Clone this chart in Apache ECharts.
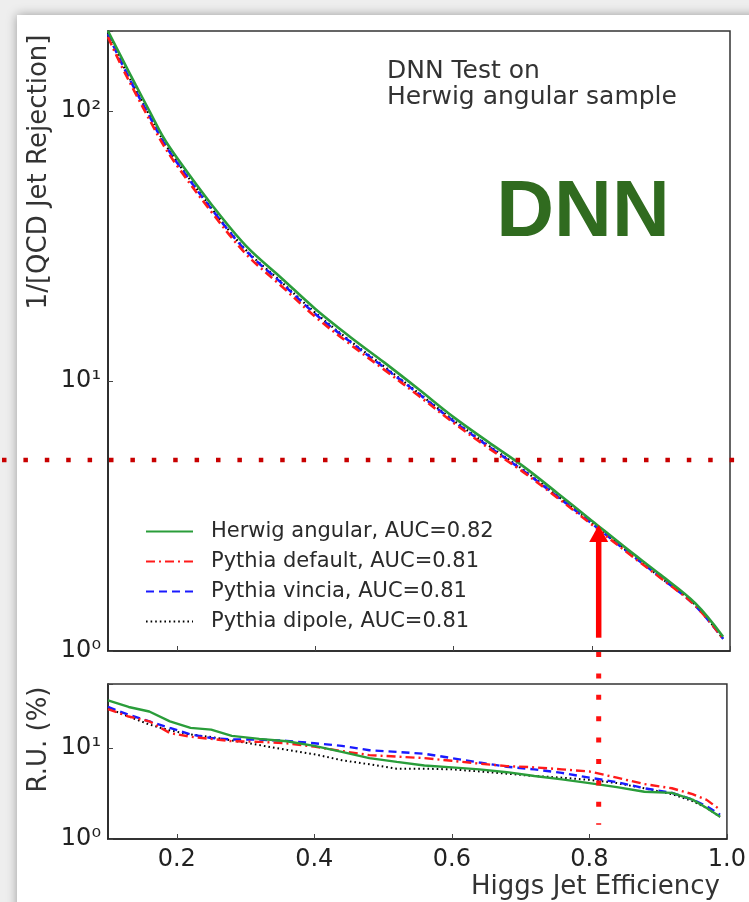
<!DOCTYPE html>
<html>
<head>
<meta charset="utf-8">
<script src="https://cdn.jsdelivr.net/npm/echarts@6/dist/echarts.min.js"></script>
<style>
  html, body { margin: 0; padding: 0; background: #eeeeee; }
  #chart { width: 749px; height: 902px; }
</style>
</head>
<body>
<div id="chart"></div>
<script>
// ---------- data ----------
const seriesNames = ['Herwig angular, AUC=0.82', 'Pythia default, AUC=0.81', 'Pythia vincia, AUC=0.81', 'Pythia dipole, AUC=0.81'];

// top panel: 1/[QCD Jet Rejection] vs Higgs jet efficiency
const effX = [0.10, 0.12, 0.14, 0.16, 0.18, 0.20, 0.25, 0.30, 0.35, 0.40, 0.45, 0.50, 0.55, 0.60, 0.65, 0.70, 0.75, 0.80, 0.85, 0.90, 0.95, 0.99];
const rejHerwigAng = [198, 157, 125, 100, 80, 67, 45, 31.6, 24.2, 18.5, 14.6, 11.7, 9.3, 7.35, 5.95, 4.85, 3.85, 3.04, 2.40, 1.91, 1.50, 1.13];
const rejPythiaDef = [188, 146, 116, 93, 75, 62.7, 42.2, 29.5, 22.6, 17.3, 13.7, 11.0, 8.8, 7.0, 5.66, 4.62, 3.70, 2.94, 2.33, 1.86, 1.47, 1.11];
const rejPythiaVin = [193, 150, 119, 95.7, 76.9, 64.3, 43.3, 30.3, 23.2, 17.7, 14.0, 11.2, 8.95, 7.1, 5.74, 4.67, 3.74, 2.97, 2.35, 1.87, 1.47, 1.11];
const rejPythiaDip = [194, 151, 120, 96.6, 77.6, 64.9, 43.6, 30.5, 23.4, 17.9, 14.1, 11.3, 9.0, 7.15, 5.78, 4.71, 3.76, 2.98, 2.36, 1.87, 1.48, 1.11];

// bottom panel: R.U. (%) vs Higgs jet efficiency
const ruX = [0.10, 0.13, 0.16, 0.19, 0.22, 0.25, 0.28, 0.32, 0.36, 0.40, 0.44, 0.48, 0.52, 0.56, 0.60, 0.64, 0.68, 0.72, 0.76, 0.80, 0.84, 0.88, 0.92, 0.95, 0.97, 0.99];
const ruHerwigAng = [33, 28, 25, 19.5, 16.5, 15.8, 13.5, 12.5, 11.8, 10.5, 9.0, 7.7, 7.0, 6.4, 6.1, 5.8, 5.4, 4.9, 4.5, 4.1, 3.7, 3.3, 3.2, 2.7, 2.2, 1.75];
const ruPythiaDef = [26.5, 22, 19.5, 14.5, 13.2, 12.5, 11.8, 11.6, 11.2, 10.3, 9.2, 8.3, 8.0, 7.7, 7.2, 6.7, 6.3, 6.1, 5.8, 5.5, 4.7, 4.0, 3.6, 3.1, 2.7, 2.1];
const ruPythiaVin = [28, 23, 19.5, 16.5, 14, 12.8, 12.3, 12.3, 11.9, 11.2, 10.5, 9.4, 9.0, 8.6, 7.7, 6.9, 6.2, 5.8, 5.3, 4.7, 4.2, 3.6, 3.2, 2.7, 2.3, 1.84];
const ruPythiaDip = [27, 22, 18, 15.5, 14, 13.1, 12.0, 10.7, 9.5, 8.5, 7.3, 6.6, 5.9, 5.9, 5.8, 5.5, 5.2, 4.9, 4.7, 4.45, 4.1, 3.6, 3.1, 2.6, 2.2, 1.75];

// axes / annotations
const xTicks = [0.2, 0.4, 0.6, 0.8, 1.0];
const xRange = [0.1, 1.0];
const rejRange = [1, 198];
const ruRange = [1, 50];
const refRejection = 5.1;      // horizontal dotted line
const workingEff = 0.81;       // vertical arrow / dotted line
const workingRej = 2.93;       // arrow tip
const arrowBaseRej = 1.12;     // arrow start
const dottedEndRU = 1.43;      // end of vertical dotted line in lower panel

// ---------- styling ----------
const FONT = 'DejaVu Sans';
const colors = ['#2a9d3a', '#ff1a1a', '#1a1aff', '#000000'];
const dashes = ['solid', [9, 4, 2, 4], [8, 5], [1.6, 3]];

const sup = { '0': '\u2070', '1': '\u00b9', '2': '\u00b2', '3': '\u00b3' };
function logLabel(v) {
  const e = Math.log10(v);
  if (Math.abs(e - Math.round(e)) > 1e-6) return '';
  return '10' + String(Math.round(e)).split('').map(c => sup[c]).join('');
}
const pair = (xs, ys) => xs.map((x, i) => [x, ys[i]]);

const topData = [rejHerwigAng, rejPythiaDef, rejPythiaVin, rejPythiaDip];
const botData = [ruHerwigAng, ruPythiaDef, ruPythiaVin, ruPythiaDip];

const series = [];
seriesNames.forEach((n, i) => {
  series.push({
    name: n, type: 'line', xAxisIndex: 0, yAxisIndex: 0,
    data: pair(effX, topData[i]), symbol: 'none', smooth: 0.35,
    lineStyle: { color: colors[i], width: i === 3 ? 2.2 : 2.6, type: dashes[i] },
    itemStyle: { color: colors[i] }, z: 10 - i
  });
});
seriesNames.forEach((n, i) => {
  series.push({
    name: n, type: 'line', xAxisIndex: 1, yAxisIndex: 1,
    data: pair(ruX, botData[i]), symbol: 'none', smooth: false,
    lineStyle: { color: colors[i], width: i === 3 ? 2.0 : 2.4, type: dashes[i] },
    itemStyle: { color: colors[i] }, z: 10 - i
  });
});

const axisLineStyle = { color: '#222', width: 1.6 };
function xAxisCfg(gridIndex, showLabels) {
  return {
    type: 'value', gridIndex, min: xRange[0], max: xRange[1],
    axisLine: { show: true, lineStyle: axisLineStyle },
    axisTick: { show: true, inside: true, length: 5, lineStyle: { color: '#444' }, customValues: xTicks },
    axisLabel: { show: showLabels, customValues: xTicks, formatter: v => v.toFixed(1),
      fontFamily: FONT, fontSize: 24, color: '#222', margin: 9 },
    splitLine: { show: false }
  };
}
function yAxisCfg(gridIndex, range) {
  return {
    type: 'log', logBase: 10, gridIndex, min: range[0], max: range[1],
    axisLine: { show: true, lineStyle: axisLineStyle },
    axisTick: { show: true, inside: true, length: 5, lineStyle: { color: '#444' } },
    axisLabel: { formatter: logLabel, fontFamily: FONT, fontSize: 24, color: '#222', margin: 7 },
    splitLine: { show: false }, minorTick: { show: false }
  };
}

const option = {
  animation: false,
  backgroundColor: 'transparent',
  grid: [
    { left: 108, right: 19, top: 31, height: 620, show: true, borderColor: '#333', borderWidth: 1.5, containLabel: false },
    { left: 108, right: 19, top: 684, height: 155, show: true, borderColor: '#333', borderWidth: 1.5, containLabel: false }
  ],
  xAxis: [xAxisCfg(0, false), xAxisCfg(1, true)],
  yAxis: [yAxisCfg(0, rejRange), yAxisCfg(1, ruRange)],
  legend: {
    orient: 'vertical', left: 140, top: 516, itemWidth: 47, itemHeight: 14, itemGap: 9,
    data: seriesNames, selectedMode: false,
    itemStyle: { opacity: 0, borderWidth: 0 },
    textStyle: { fontFamily: FONT, fontSize: 21, color: '#2a2a2a', padding: [0, 0, 0, 13] }
  },
  series,
  graphic: []
};

const chart = echarts.init(document.getElementById('chart'), null, { renderer: 'canvas' });
chart.setOption(option);

// ---------- annotations positioned through the axes ----------
const pTop = (x, y) => chart.convertToPixel({ xAxisIndex: 0, yAxisIndex: 0 }, [x, y]);
const pBot = (x, y) => chart.convertToPixel({ xAxisIndex: 1, yAxisIndex: 1 }, [x, y]);

const hY = pTop(0.5, refRejection)[1];
const arrowTip = pTop(workingEff, workingRej);
const arrowBase = pTop(workingEff, arrowBaseRej);
const topBottomY = pTop(workingEff, rejRange[0])[1];
const vEnd = pBot(workingEff, dottedEndRU);
const topRight = pTop(xRange[1], rejRange[1]);
const botBottom = pBot(xRange[1], ruRange[0]);
const botTop = pBot(xRange[0], ruRange[1]);

const headH = 17, headW = 19;
chart.setOption({
  graphic: [
    // card background
    { type: 'rect', z: -100, silent: true, shape: { x: 17, y: 15, width: 800, height: 950 },
      style: { fill: '#ffffff', shadowBlur: 10, shadowColor: 'rgba(0,0,0,0.35)' } },
    // y axis titles
    { type: 'text', x: 39, y: 172, rotation: Math.PI / 2,
      style: { text: '1/[QCD Jet Rejection]', font: '26px "DejaVu Sans"', fill: '#333', align: 'center', verticalAlign: 'middle' } },
    { type: 'text', x: 39, y: (botTop[1] + botBottom[1]) / 2 - 22, rotation: Math.PI / 2,
      style: { text: 'R.U. (%)', font: '26px "DejaVu Sans"', fill: '#333', align: 'center', verticalAlign: 'middle' } },
    // x axis title
    { type: 'text', x: topRight[0] - 10, y: 887,
      style: { text: 'Higgs Jet Efficiency', font: '26px "DejaVu Sans"', fill: '#333', align: 'right', verticalAlign: 'middle' } },
    // panel annotation
    { type: 'text', x: 387, y: 58,
      style: { text: 'DNN Test on\nHerwig angular sample', font: '25px "DejaVu Sans"', lineHeight: 26, fill: '#333', align: 'left', verticalAlign: 'top' } },
    { type: 'text', x: 583, y: 214,
      style: { text: 'DNN', font: 'bold 80px "Liberation Sans"', fill: '#306b1f', align: 'center', verticalAlign: 'middle' } },
    // horizontal reference dotted line across the page
    { type: 'line', z: 50, shape: { x1: 2, y1: hY, x2: 749, y2: hY },
      style: { stroke: '#c80000', lineWidth: 4.5, lineDash: [4.5, 16.9] } },
    // vertical dotted line into the lower panel
    { type: 'line', z: 50, shape: { x1: arrowTip[0], y1: topBottomY + 1, x2: arrowTip[0], y2: vEnd[1] },
      style: { stroke: '#ff1010', lineWidth: 5, lineDash: [5, 16.4] } },
    // arrow shaft
    { type: 'line', z: 50, shape: { x1: arrowBase[0], y1: arrowBase[1], x2: arrowTip[0], y2: arrowTip[1] + headH - 1 },
      style: { stroke: '#ff0000', lineWidth: 5.5 } },
    // arrow head
    { type: 'polygon', z: 51, shape: { points: [[arrowTip[0], arrowTip[1]], [arrowTip[0] - headW / 2, arrowTip[1] + headH], [arrowTip[0] + headW / 2, arrowTip[1] + headH]] },
      style: { fill: '#ff0000' } }
  ]
});
</script>
</body>
</html>
